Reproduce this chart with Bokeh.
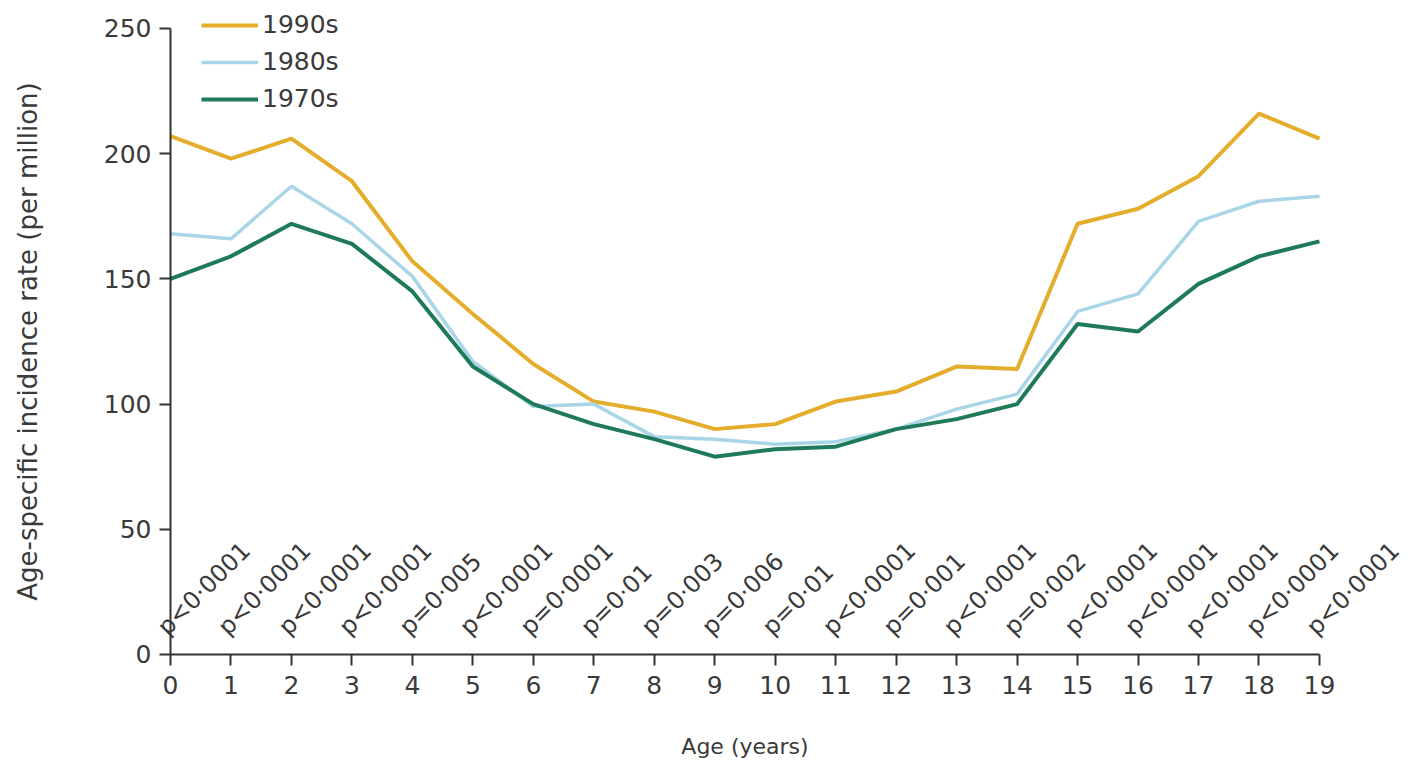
from bokeh.plotting import figure
from bokeh.models import Range1d, ColumnDataSource, LabelSet, FixedTicker
from bokeh.core.properties import value
from bokeh.embed import file_html
from bokeh.resources import INLINE

# Age-specific incidence rate (per million) by single year of age, per decade
ages = list(range(20))
rate_1990s = [207, 198, 206, 189, 157, 136, 116, 101, 97, 90, 92, 101, 105, 115, 114, 172, 178, 191, 216, 206]
rate_1980s = [168, 166, 187, 172, 151, 117, 99, 100, 87, 86, 84, 85, 90, 98, 104, 137, 144, 173, 181, 183]
rate_1970s = [150, 159, 172, 164, 145, 115, 100, 92, 86, 79, 82, 83, 90, 94, 100, 132, 129, 148, 159, 165]

# Trend test p value at each age
p_values = ["p<0·0001", "p<0·0001", "p<0·0001", "p<0·0001", "p=0·005",
            "p<0·0001", "p=0·0001", "p=0·01", "p=0·003", "p=0·006",
            "p=0·01", "p<0·0001", "p=0·001", "p<0·0001", "p=0·002",
            "p<0·0001", "p<0·0001", "p<0·0001", "p<0·0001", "p<0·0001"]

y_ticks = [0, 50, 100, 150, 200, 250]

FONT = "DejaVu Sans"
TEXT = "#3a3a3a"
AXIS = "#333333"

# The frame covers almost the whole page; both axes are pinned at zero and
# bounded to the data span, so slanted labels, legend and tick labels all fit.
p = figure(
    width=1409, height=769,
    frame_width=1400, frame_height=765,
    min_border_left=0, min_border_right=9,
    min_border_top=4, min_border_bottom=0,
    x_range=Range1d(-2.8112, 20.34), y_range=Range1d(-45.93, 259.58),
    output_backend="svg", toolbar_location=None,
)
p.outline_line_color = None
p.xgrid.visible = False
p.ygrid.visible = False

p.line(ages, rate_1990s, line_color="#E4AE2C", line_width=4, legend_label="1990s")
p.line(ages, rate_1980s, line_color="#A8D6E6", line_width=3.5, legend_label="1980s")
p.line(ages, rate_1970s, line_color="#1F7A5A", line_width=4, legend_label="1970s")

# p values written diagonally above each age on the x axis
pv_src = ColumnDataSource(dict(x=ages, y=[0] * len(ages), text=p_values))
labels = LabelSet(
    x="x", y="y", text="text", source=pv_src,
    angle=45, angle_units="deg",
    x_offset=-3, y_offset=18,
    text_align="left", text_baseline="alphabetic",
    text_font=value(FONT), text_font_size=value("24px"), text_color=value(TEXT),
)
p.add_layout(labels)

for ax in (p.xaxis[0], p.yaxis[0]):
    ax.axis_line_color = AXIS
    ax.axis_line_width = 2
    ax.major_tick_line_color = AXIS
    ax.major_tick_line_width = 2
    ax.major_tick_out = 11
    ax.major_tick_in = 0
    ax.minor_tick_line_color = None
    ax.major_label_text_font = FONT
    ax.major_label_text_font_size = "25px"
    ax.major_label_text_color = TEXT
    ax.axis_label_text_font = FONT
    ax.axis_label_text_font_style = "normal"
    ax.axis_label_text_color = TEXT

p.xaxis.ticker = FixedTicker(ticks=ages)
p.yaxis.ticker = FixedTicker(ticks=y_ticks)
p.xaxis.bounds = (0, 19)
p.yaxis.bounds = (0, 250)
p.xaxis.fixed_location = 0
p.yaxis.fixed_location = 0
p.xaxis.major_label_standoff = 11
p.yaxis.major_label_standoff = 8
p.xaxis.axis_label = "Age (years)"
p.yaxis.axis_label = "Age-specific incidence rate (per million)"
p.xaxis.axis_label_text_font_size = "22px"
p.yaxis.axis_label_text_font_size = "26px"
p.xaxis.axis_label_standoff = 36
p.yaxis.axis_label_standoff = 58

leg = p.legend[0]
leg.location = (201, 656)
leg.padding = 0
leg.margin = 0
leg.spacing = 8
leg.glyph_width = 57
leg.glyph_height = 26
leg.label_standoff = 4
leg.label_text_font = FONT
leg.label_text_font_size = "25px"
leg.label_text_color = TEXT
leg.border_line_color = None
leg.background_fill_alpha = 0

open("out.html", "w").write(file_html(p, INLINE))
